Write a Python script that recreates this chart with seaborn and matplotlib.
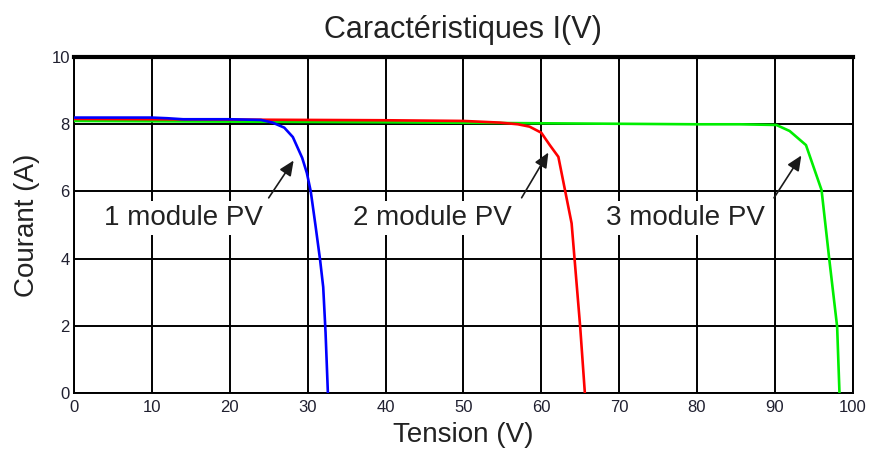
import matplotlib
matplotlib.use("Agg")
import matplotlib.pyplot as plt
import seaborn as sns
import pandas as pd

# I(V) characteristics of 1, 2 and 3 PV modules in series
v_1 = [0, 5, 10, 12, 14, 20, 24, 25.5, 27, 28.1, 29.3, 29.9, 30.4, 31.0, 31.6, 32.0, 32.3, 32.6]
i_1 = [8.2, 8.2, 8.2, 8.18, 8.15, 8.15, 8.13, 8.05, 7.9, 7.62, 7.0, 6.55, 6.0, 5.0, 3.96, 3.15, 1.8, 0.0]

v_2 = [0, 10, 20, 30, 40, 50, 54.7, 57, 58.5, 60.0, 61.1, 62.2, 63.9, 65.0, 65.6]
i_2 = [8.16, 8.15, 8.14, 8.13, 8.12, 8.1, 8.05, 8.0, 7.93, 7.75, 7.38, 7.03, 5.05, 1.97, 0.0]

v_3 = [0, 20, 40, 60, 80, 85.5, 90.2, 91.9, 94.0, 96.0, 97.0, 98.0, 98.3]
i_3 = [8.1, 8.08, 8.06, 8.03, 8.0, 8.0, 7.98, 7.8, 7.38, 6.04, 3.96, 1.97, 0.0]

series_names = ["3 module PV", "2 module PV", "1 module PV"]
series_colors = ["#00ee00", "#ff0000", "#0000ff"]

# annotation text positions and arrow tail/head points (V, I)
label_pos = [(14.0, 5.2), (46.0, 5.2), (78.5, 5.2)]
label_text = ["1 module PV", "2 module PV", "3 module PV"]
arrow_tail = [(24.8, 5.74), (57.3, 5.74), (89.7, 5.74)]
arrow_head = [(28.4, 6.99), (61.1, 7.23), (93.6, 7.14)]

x_ticks = list(range(0, 101, 10))
y_ticks = list(range(0, 11, 2))

frames = []
for name, v, i in [("3 module PV", v_3, i_3), ("2 module PV", v_2, i_2), ("1 module PV", v_1, i_1)]:
    frames.append(pd.DataFrame({"Tension": v, "Courant": i, "serie": name}))
df = pd.concat(frames, ignore_index=True)

sns.set_style("white")
plt.rcParams["font.family"] = ["Liberation Sans", "DejaVu Sans"]

fig = plt.figure(figsize=(8.71, 4.5), dpi=100)
ax = fig.add_axes([0.085, 0.127, 0.894, 0.746])

sns.lineplot(data=df, x="Tension", y="Courant", hue="serie", hue_order=series_names,
             palette=series_colors, sort=False, estimator=None, linewidth=1.9,
             legend=False, ax=ax, zorder=3)

ax.set_xlim(0, 100)
ax.set_ylim(0, 10)
ax.set_xticks(x_ticks)
ax.set_yticks(y_ticks)
ax.grid(True, color="black", linewidth=1.4, linestyle="-")
ax.set_axisbelow(True)
ax.tick_params(direction="in", length=3, width=1.2, top=True, right=True,
               labelsize=12, colors="black")
ax.tick_params(axis="x", pad=5)
ax.tick_params(axis="y", pad=3)
for lbl in ax.get_xticklabels() + ax.get_yticklabels():
    lbl.set_color("#202030")
for side in ["left", "bottom", "right"]:
    ax.spines[side].set_color("black")
    ax.spines[side].set_linewidth(1.4)
ax.spines["top"].set_color("black")
ax.spines["top"].set_linewidth(3)

ax.set_xlabel("Tension (V)", fontsize=20, labelpad=5, color="#222222")
ax.set_ylabel("Courant (A)", fontsize=20, labelpad=8, color="#222222")
ax.set_title("Caractéristiques I(V)", fontsize=22, pad=14, color="#222222")

for (tx, ty), txt, tail, head in zip(label_pos, label_text, arrow_tail, arrow_head):
    ax.text(tx, ty, txt, fontsize=20, ha="center", va="center", color="#222222", zorder=4,
            bbox=dict(facecolor="white", edgecolor="none", pad=3))
    ax.annotate("", xy=head, xytext=tail, zorder=5,
                arrowprops=dict(arrowstyle="-|>,head_length=0.9,head_width=0.4",
                                color="#1a1a1a", lw=1.2))

fig.savefig("out.png", dpi=100)
